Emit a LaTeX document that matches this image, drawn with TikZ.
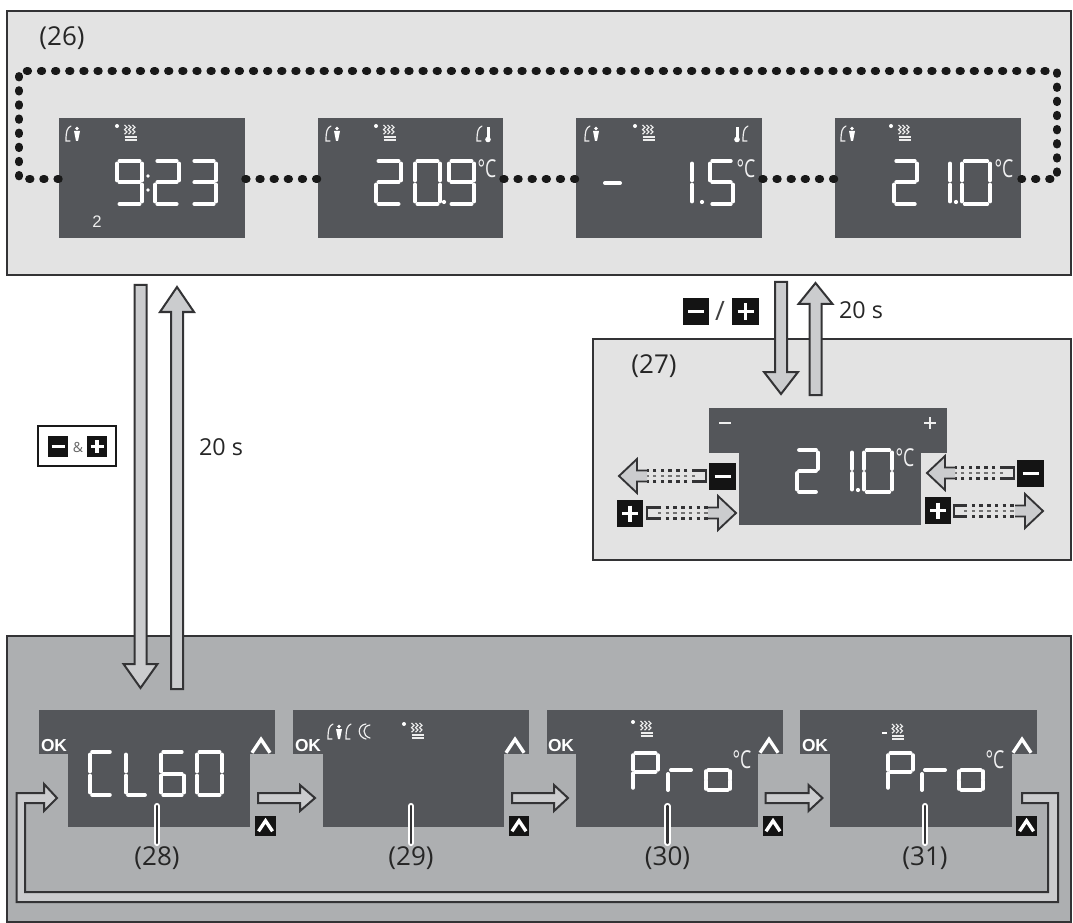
\documentclass[tikz,border=0pt]{standalone}
\usepackage{fontspec}
\setmainfont{Open Sans}
\newfontfamily\okfont{Liberation Sans}[Scale=1]
\usetikzlibrary{calc,fit}
\definecolor{lcdc}{HTML}{54565A}
\definecolor{panA}{HTML}{E3E3E3}
\definecolor{panB}{HTML}{ADAFB1}
\definecolor{arrF}{HTML}{CBCCCE}
\definecolor{edgeC}{HTML}{333335}
\tikzset{
 panel/.style={draw=edgeC,line width=1.9pt},
 lcd/.style={fill=lcdc,inner sep=0pt,draw=none},
 segline/.style={draw=white,line width=3pt,line cap=round},
 seg a/.style={insert path={(.1,0)--(.9,0)}},
 seg b/.style={insert path={(1,.06)--(1,.45)}},
 seg c/.style={insert path={(1,.55)--(1,.94)}},
 seg d/.style={insert path={(.1,1)--(.9,1)}},
 seg e/.style={insert path={(0,.55)--(0,.94)}},
 seg f/.style={insert path={(0,.06)--(0,.45)}},
 seg g/.style={insert path={(.1,.5)--(.9,.5)}},
 dotlink/.style={draw=black!90,line width=6pt,line cap=round,dash pattern=on 1pt off 9.6pt},
 blockline/.style={draw=edgeC,fill=arrF,line width=1.5pt,line join=miter},
 thin icon/.style={draw=white!90!lcdc,line width=.9pt,line cap=round},
 lbl/.style={font=\fontsize{17.5}{20}\selectfont,text=black!85,inner sep=0pt},
 numlbl/.style={font=\fontsize{19.5}{22}\selectfont,text=black!85,inner sep=0pt},
 deg/.style={font=\fontsize{18.5}{20}\selectfont,text=white!92!lcdc,inner sep=0pt,xscale=.72,transform shape},
 ok/.style={font=\okfont\bfseries\fontsize{13}{14}\selectfont,text=white,inner sep=0pt},
 btn/.style={fill=black!92,inner sep=0pt,minimum size=20pt},
 smallbtn/.style={fill=black!92,inner sep=0pt,minimum size=15.5pt},
 btnmark/.style={draw=white,line width=2.4pt},
 chev/.style={draw=white,line width=2.5pt,line join=miter},
 leader/.style={line cap=round},
}
\newcommand\lcdbox[5]{%
 \path (#2,#3) coordinate (#1-a) (#4,#5) coordinate (#1-b);
 \node[lcd,fit=(#1-a)(#1-b)] (#1) {};}
\newcommand\sseg[5]{%
 \begin{scope}[shift={(#1,#2)},xscale=#3,yscale=#4]
 \foreach \s in {#5}{\draw[segline,seg \s];}
 \end{scope}}
\newcommand\tshape[8]{% name x1 x2 bx1 bx2 y1 y2 y3
 \path (#4,#6) coordinate (#1-a) (#5,#8) coordinate (#1-b);
 \node[lcd,fit=(#1-a)(#1-b)] (#1) {};
 \fill[lcdc] (#2,#6) rectangle (#3,#7);}
\newcommand\blockarrow[6][]{%
 \coordinate (ba) at ($(#3)!#6*0.75pt!(#2)$);
 \draw[blockline,#1] ($(#2)!#4*0.75pt!90:(#3)$) -- ($(ba)!#4*0.75pt!90:(#3)$)
  -- ($(ba)!#5*0.75pt!90:(#3)$) -- (#3) -- ($(ba)!#5*0.75pt!-90:(#3)$)
  -- ($(ba)!#4*0.75pt!-90:(#3)$) -- ($(#2)!#4*0.75pt!-90:(#3)$) -- cycle;}
\newcommand\dashedarrow[3]{% button end, bracket end, tip
 \coordinate (ba) at ($(#3)!18*0.75pt!(#1)$);
 \coordinate (bb) at ($(ba)!10*0.75pt!(#2)$);
 \draw[black!55,line width=1.5pt,dash pattern=on 2.6pt off 3.2pt] (#2) -- (ba);
 \draw[edgeC,line width=1.7pt,dash pattern=on 2.6pt off 3.2pt]
   ($(#2)!5.5*0.75pt!90:(#3)$) -- ($(bb)!5.5*0.75pt!90:(#3)$)
   ($(#2)!5.5*0.75pt!-90:(#3)$) -- ($(bb)!5.5*0.75pt!-90:(#3)$);
 \draw[edgeC,line width=1.7pt] ($(#2)!5.5*0.75pt!90:(#3)$) -- ($(#1)!5.5*0.75pt!90:(#3)$) -- ($(#1)!5.5*0.75pt!-90:(#3)$) -- ($(#2)!5.5*0.75pt!-90:(#3)$);
 \fill[arrF] ($(bb)!5.5*0.75pt!90:(#3)$) -- ($(ba)!5.5*0.75pt!90:(#3)$) -- ($(ba)!17*0.75pt!90:(#3)$) -- (#3) -- ($(ba)!17*0.75pt!-90:(#3)$) -- ($(ba)!5.5*0.75pt!-90:(#3)$) -- ($(bb)!5.5*0.75pt!-90:(#3)$) -- cycle;
 \draw[edgeC,line width=1.4pt] ($(bb)!5.5*0.75pt!90:(#3)$) -- ($(ba)!5.5*0.75pt!90:(#3)$) -- ($(ba)!17*0.75pt!90:(#3)$) -- (#3) -- ($(ba)!17*0.75pt!-90:(#3)$) -- ($(ba)!5.5*0.75pt!-90:(#3)$) -- ($(bb)!5.5*0.75pt!-90:(#3)$);}
\newcommand\btnminus[5][btn]{\node[#1] (#2) at (#3,#4) {}; \draw[btnmark] (#2.center) ++(-#5,0) -- ++(2*#5,0);}
\newcommand\btnplus[5][btn]{\node[#1] (#2) at (#3,#4) {}; \draw[btnmark] (#2.center) ++(-#5,0) -- ++(2*#5,0) (#2.center) ++(0,-#5) -- ++(0,2*#5);}
\newcommand\chevron[3]{\draw[chev] (#1-#3,#2+0.75*#3) -- (#1,#2-0.75*#3) -- (#1+#3,#2+0.75*#3);}
\newcommand\bracketicon[2]{\draw[thin icon] (#1+6,#2) .. controls (#1+2,#2+2) and (#1+1,#2+5) .. (#1+1,#2+15) -- (#1+5,#2+15);}
\newcommand\personicon[2]{%
 \bracketicon{#1}{#2}
 \fill[white] (#1+12,#2+2.5) circle (1.8);
 \fill[white] (#1+9,#2+5) -- (#1+15,#2+5) -- (#1+13,#2+15) -- (#1+11,#2+15) -- cycle;}
\newcommand\thermoicon[2]{\fill[white] (#1-1.5,#2) rectangle (#1+1.5,#2+11); \fill[white] (#1,#2+12.5) circle (2.8);}
\newcommand\moonicon[2]{\draw[thin icon] (#1+7,#2) .. controls (#1-2,#2+1) and (#1-2,#2+13) .. (#1+7,#2+15)
   (#1+11,#2+1) .. controls (#1+3,#2+2) and (#1+3,#2+12) .. (#1+11,#2+14);}
\newcommand\waves[2]{%
 \foreach \i in {0,4,8}{\draw[white!90!lcdc,line width=.85pt] (#1+\i,#2) -- ++(2.5,2.3) -- ++(-2.5,2.3) -- ++(2.5,2.3) -- ++(-2.5,2.3);}
 \draw[white!90!lcdc,line width=.85pt] (#1,#2+12) -- ++(12,0) (#1,#2+15) -- ++(12,0);}
\newcommand\heatplus[2]{\fill[white] (#1,#2) circle (2); \waves{#1+7.5}{#2-1}}
\begin{document}
\begin{tikzpicture}[x=0.75pt,y=-0.75pt]
\useasboundingbox (0,0) rectangle (1073,923);
\fill[white] (0,0) rectangle (1073,923);
% panels
\node[panel,fill=panA,inner sep=0pt,fit={(7,11)(1071,275)}] (p26) {};
\node[panel,fill=panA,inner sep=0pt,fit={(593,339)(1071,560)}] (p27) {};
\node[panel,fill=panB,inner sep=0pt,fit={(7,636)(1071,922)}] (pB) {};
\node[numlbl] (l26) at (62,38) {(26)};
\node[numlbl] (l27) at (654,366) {(27)};
% displays row
\lcdbox{d1}{59}{118}{245}{238}
\lcdbox{d2}{318}{118}{503}{238}
\lcdbox{d3}{576}{118}{762}{238}
\lcdbox{d4}{835}{118}{1021}{238}
\coordinate (rl) at (19,179); \coordinate (rr) at (1057,179);
\coordinate (tl) at (19,71); \coordinate (tr) at (1057,71);
\draw[dotlink] (d1.west |- rl) -- (rl) -- (tl) -- (tr) -- (rr) -- (d4.east |- rr);
\draw[dotlink] (d1.east |- rl) -- (d2.west |- rl);
\draw[dotlink] (d2.east |- rl) -- (d3.west |- rl);
\draw[dotlink] (d3.east |- rl) -- (d4.west |- rl);
% d1
\personicon{65}{126}\heatplus{117}{126}
\sseg{117}{161}{25}{43}{a,b,c,d,f,g}
\fill[white] (148,176) circle (1.9) (148,190) circle (1.9);
\sseg{155}{161}{24}{43}{a,b,g,e,d}
\sseg{192}{161}{24}{43}{a,b,g,c,d}
\node[font=\okfont\fontsize{12.5}{13}\selectfont,text=white!90!lcdc,inner sep=0pt] (two) at (97,222) {2};
% d2
\personicon{325}{126}\heatplus{376}{126}
\bracketicon{476}{126}\thermoicon{488}{127}
\sseg{376}{161}{25}{43}{a,b,g,e,d}
\sseg{415}{161}{25}{43}{a,b,c,d,e,f}
\fill[white] (444,202) circle (2.1);
\sseg{449}{161}{25}{43}{a,b,c,d,f,g}
\node[deg] (c2) at (487,169) {°C};
% d3
\personicon{584}{126}\heatplus{635}{126}
\thermoicon{737}{127}
\bracketicon{742}{126}
\draw[segline] (605,183) -- (620,183);
\sseg{692}{161}{0}{43}{b,c}
\fill[white] (702,202) circle (2.1);
\sseg{710}{161}{23}{43}{a,f,g,c,d}
\node[deg] (c3) at (746,169) {°C};
% d4
\personicon{840}{126}\heatplus{891}{126}
\sseg{894}{161}{23}{43}{a,b,g,e,d}
\sseg{950}{161}{0}{43}{b,c}
\fill[white] (956,202) circle (2.1);
\sseg{962}{161}{28}{43}{a,b,c,d,e,f}
\node[deg] (c4) at (1004,169) {°C};
% block arrows to lower panel
\coordinate (a1s) at (140.5,285); \coordinate (a1e) at (140.5,688);
\coordinate (a2s) at (177,689); \coordinate (a2e) at (177,287);
\blockarrow{a1s}{a1e}{6}{17}{24}
\blockarrow{a2s}{a2e}{6}{17}{25}
% key box
\node[draw=black!90,line width=1.7pt,fill=white,inner sep=0pt,fit={(38,426)(116,466)}] (keybox) {};
\btnminus[smallbtn]{kbm}{58}{446.5}{6.5}
\node[font=\fontsize{10.5}{11}\selectfont,text=black!60,inner sep=0pt] (kbamp) at (78,447) {\&};
\btnplus[smallbtn]{kbp}{97}{446.5}{6.5}
\node[lbl] (t20a) at (221,447) {20 s};
% panel 27
\tshape{t27}{709}{947}{739}{921}{408}{453}{525}
\draw[white!90!lcdc,line width=1.4pt] (719,423) -- (731,423) (924,423) -- (936,423) (930,417) -- (930,429);
\sseg{797}{450}{21}{42}{a,b,g,e,d}
\sseg{852}{450}{0}{42}{b,c}
\fill[white] (858,490) circle (2.1);
\sseg{864}{450}{28}{42}{a,b,c,d,e,f}
\node[deg] (c27) at (905,458) {°C};
\coordinate (a3s) at (781,282); \coordinate (a3e) at (781,394);
\coordinate (a4s) at (815.5,395); \coordinate (a4e) at (815.5,283);
\blockarrow{a3s}{a3e}{6}{17}{22}
\blockarrow{a4s}{a4e}{6}{17}{21}
\btnminus{bm0}{696}{311.5}{8}
\node[font=\fontsize{20}{22}\selectfont,text=black!75,inner sep=0pt] (slash) at (720,311) {/};
\btnplus{bp0}{745.5}{311.5}{8}
\node[lbl] (t20b) at (861,310) {20 s};
% buttons + dashed arrows
\btnminus{bm1}{722.5}{476.5}{8}
\btnplus{bp1}{630}{513.5}{8}
\btnminus{bm2}{1030.5}{473.5}{8}
\btnplus{bp2}{938}{510.5}{8}
\coordinate (m1s) at (706,476); \coordinate (m1j) at (695,476); \coordinate (m1t) at (619,476);
\coordinate (p1s) at (647,513); \coordinate (p1j) at (658,513); \coordinate (p1t) at (736,513);
\coordinate (m2s) at (1014,473); \coordinate (m2j) at (1003,473); \coordinate (m2t) at (927,473);
\coordinate (p2s) at (954,511); \coordinate (p2j) at (964,511); \coordinate (p2t) at (1043,511);
\dashedarrow{m1s}{m1j}{m1t}
\dashedarrow{p1s}{p1j}{p1t}
\dashedarrow{m2s}{m2j}{m2t}
\dashedarrow{p2s}{p2j}{p2t}
% lower displays
\tshape{t28}{39}{275}{68}{250}{710}{754}{827}
\tshape{t29}{293}{529}{323}{504}{710}{754}{827}
\tshape{t30}{547}{783}{576}{758}{710}{754}{827}
\tshape{t31}{800}{1037}{830}{1012}{710}{754}{827}
\foreach \x in {54,308,561,815}{\node[ok] at (\x,746) {OK};}
\foreach \x in {261,515,769,1022}{\chevron{\x}{746}{9}}
\foreach \x/\n in {265.5/k28,519/k29,773/k30,1026.5/k31}{%
 \node[smallbtn] (\n) at (\x,826) {};\chevron{\x}{826}{7}}
% CL60
\sseg{90}{752}{22}{43}{a,f,e,d}
\sseg{126}{752}{21}{43}{f,e,d}
\sseg{161}{752}{23}{43}{a,f,g,e,c,d}
\sseg{197}{752}{25}{43}{a,b,c,d,e,f}
% 29 icons
\personicon{327}{724}\bracketicon{345}{724}\moonicon{359}{724}
\heatplus{404}{724}
% Pro
\foreach \xa/\xb/\xc in {633/668/706,888/922/959}{%
 \sseg{\xa}{753}{25}{37}{a,b,g,f,e}
 \draw[segline] (\xb,790) -- (\xb,774) (\xb+3,770) -- (\xb+23,770);
 \sseg{\xc}{770}{24}{20}{a,b,c,d,e,f}
}
\node[deg] (c30) at (742,760) {°C};
\node[deg] (c31) at (995,760) {°C};
\heatplus{633}{722}
\draw[white,line width=1pt] (882,733) -- (887,733);
\waves{892}{724}
% leaders and labels
\foreach \x/\n/\t in {157/q28/(28),411/q29/(29),667.5/q30/(30),925/q31/(31)}{%
 \draw[leader,white,line width=4.6pt] (\x,806) -- (\x,843);
 \draw[leader,edgeC,line width=1.8pt] (\x,806) -- (\x,843);
 \node[numlbl] (\n) at (\x,858) {\t};
}
% step arrows
\coordinate (s1) at (258,798); \coordinate (e1) at (315,798);
\coordinate (s2) at (512,798); \coordinate (e2) at (568,798);
\coordinate (s3) at (765.5,798); \coordinate (e3) at (822.5,798);
\blockarrow{s1}{e1}{5}{13}{15}
\blockarrow{s2}{e2}{5}{13}{14}
\blockarrow{s3}{e3}{5}{13}{14}
% return loop
\draw[blockline] (1022,793) -- (1058,793) -- (1058,902) -- (16.5,902) -- (16.5,793) -- (44,793) -- (44,784) -- (57,798) -- (44,811) -- (44,803) -- (25,803) -- (25,892) -- (1048,892) -- (1048,803) -- (1022,803) -- cycle;
\end{tikzpicture}
\end{document}
